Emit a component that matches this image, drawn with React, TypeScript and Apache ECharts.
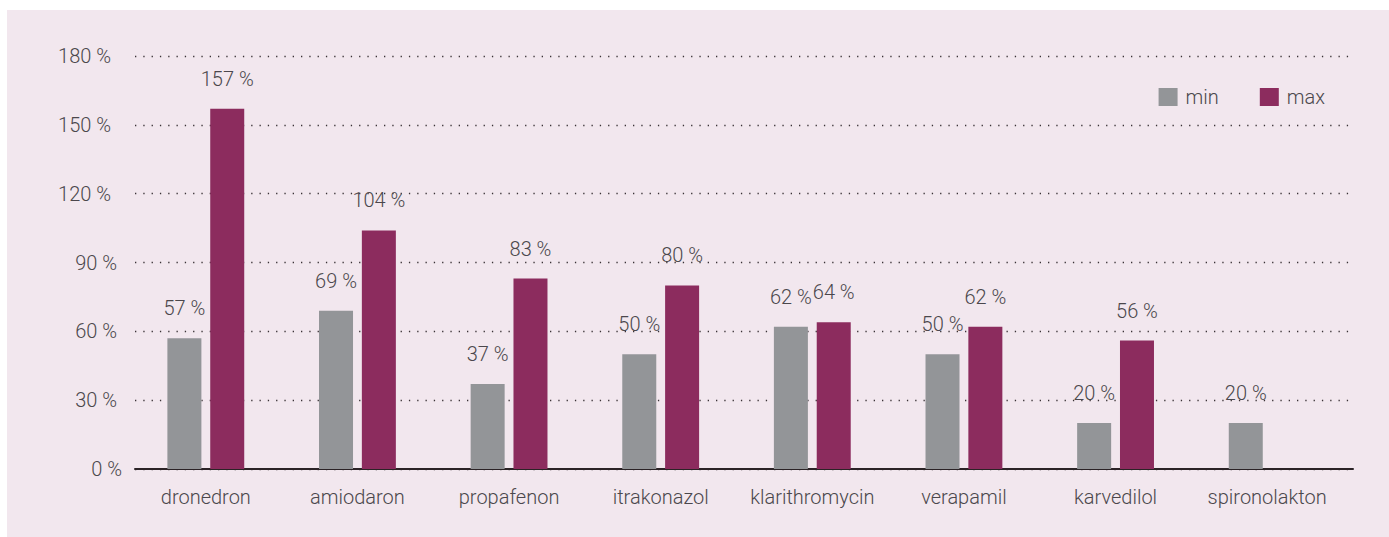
import React, { useEffect, useRef } from "react";
import * as echarts from "echarts";

const categories = ["dronedron", "amiodaron", "propafenon", "itrakonazol", "klarithromycin", "verapamil", "karvedilol", "spironolakton"];
const minValues = [57, 69, 37, 50, 62, 50, 20, 20];
const maxValues: (number | null)[] = [157, 104, 83, 80, 64, 62, 56, null];
const seriesNames = ["min", "max"];
const yMin = 0;
const yMax = 180;
const yStep = 30;

const FONT = "Roboto";
const TEXT = "#4b474c";
const GRAY = "#939598";
const MAROON = "#8c2c5e";

export default function App() {
  const ref = useRef<HTMLDivElement>(null);
  useEffect(() => {
    if (!ref.current) return;
    const chart = echarts.init(ref.current, undefined, { renderer: "svg" });
    const labelStyle = {
      show: true,
      position: "top" as const,
      distance: 20,
      formatter: (p: any) => `${p.value} %`,
      fontFamily: FONT,
      fontWeight: 300,
      fontSize: 20,
      color: TEXT,
    };
    chart.setOption({
      animation: false,
      backgroundColor: "transparent",
      textStyle: { fontFamily: FONT },
      legend: {
        data: seriesNames,
        right: 64,
        top: 87,
        itemWidth: 19,
        itemHeight: 18,
        itemGap: 41,
        icon: "rect",
        padding: 0,
        textStyle: { fontFamily: FONT, fontWeight: 300, fontSize: 20, color: TEXT, padding: [0, 0, 0, 3] },
      },
      grid: [
        { left: 135, right: 36, top: 56, bottom: 68 },
        { left: 130, right: 46, top: 56, bottom: 68 },
      ],
      xAxis: [
        {
          type: "category",
          gridIndex: 0,
          data: categories,
          axisLine: { show: true, lineStyle: { color: "#2b2326", width: 2 } },
          axisTick: { show: false },
          axisLabel: { show: false },
        },
        {
          type: "category",
          gridIndex: 1,
          data: categories,
          axisLine: { show: false },
          axisTick: { show: false },
          axisLabel: { show: true, interval: 0, margin: 18, fontFamily: FONT, fontWeight: 300, fontSize: 20, color: TEXT },
        },
      ],
      yAxis: [
        {
          type: "value",
          gridIndex: 0,
          min: yMin,
          max: yMax,
          interval: yStep,
          axisLine: { show: false },
          axisTick: { show: false },
          axisLabel: {
            margin: 13,
            align: "right",
            formatter: (v: number) => {
              const s = String(v);
              const k = s.length >= 3 ? "d3" : s.length === 2 ? "d2" : "d1";
              return `{${k}|${s} %}`;
            },
            rich: {
              d3: { fontFamily: FONT, fontWeight: 300, fontSize: 20, color: TEXT, padding: [0, 11, 0, 0] },
              d2: { fontFamily: FONT, fontWeight: 300, fontSize: 20, color: TEXT, padding: [0, 5, 0, 0] },
              d1: { fontFamily: FONT, fontWeight: 300, fontSize: 20, color: TEXT, padding: [0, 0, 0, 0] },
            },
          },
          splitLine: {
            show: true,
            lineStyle: { color: "#3a3236", width: 1.3, type: [1.3, 7] },
          },
        },
        {
          type: "value",
          gridIndex: 1,
          min: yMin,
          max: yMax,
          interval: yStep,
          show: false,
          splitLine: { show: false },
        },
      ],
      series: [
        {
          name: seriesNames[0],
          type: "bar",
          xAxisIndex: 1,
          yAxisIndex: 1,
          data: minValues,
          barWidth: 34,
          barGap: "26%",
          itemStyle: { color: GRAY },
          label: labelStyle,
          z: 3,
        },
        {
          name: seriesNames[1],
          type: "bar",
          xAxisIndex: 1,
          yAxisIndex: 1,
          data: maxValues,
          barWidth: 34,
          barGap: "26%",
          itemStyle: { color: MAROON },
          label: labelStyle,
          z: 3,
        },
      ],
    });
    return () => chart.dispose();
  }, []);

  return (
    <div style={{ position: "fixed", left: 0, top: 0, width: 1389, height: 537, background: "#ffffff" }}>
      <div style={{ position: "absolute", left: 7, top: 10, width: 1382, height: 527, background: "#f2e7ee" }} />
      <div ref={ref} style={{ position: "absolute", left: 0, top: 0, width: 1389, height: 537 }} />
    </div>
  );
}
